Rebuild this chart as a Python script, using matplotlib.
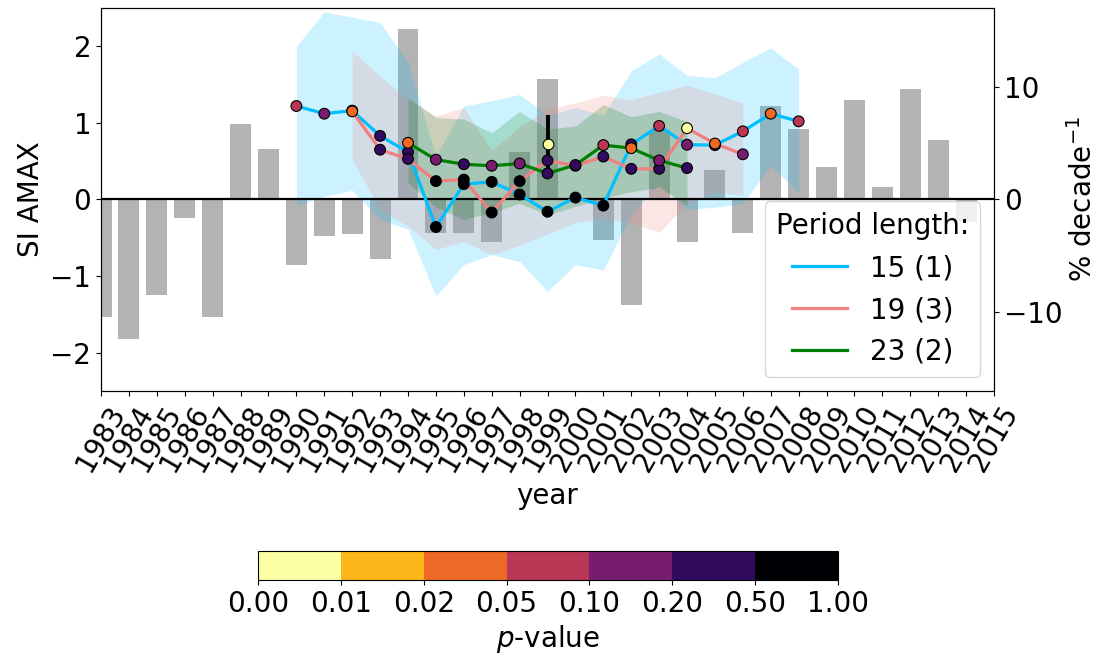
import numpy as np
import matplotlib
matplotlib.use("Agg")
import matplotlib.pyplot as plt
from matplotlib.colors import ListedColormap, BoundaryNorm
from matplotlib.lines import Line2D

plt.rcParams['font.size'] = 20

# yearly anomalies (right axis, % decade^-1)
bar_years = list(range(1983, 2015))
bar_vals = [-10.4, -12.4, -8.5, -1.6, -10.4, 6.7, 4.5, -5.8, -3.2, -3.1, -5.3, 15.1,
            -3.0, -3.0, -3.8, 4.2, 10.7, 0.0, -3.6, -9.4, 6.2, -3.8, 2.6, -3.0,
            8.3, 6.3, 2.9, 8.85, 1.15, 9.8, 5.3, -2.0]

# 15 year period
years15 = list(range(1990, 2009))
si15 = [1.22, 1.12, 1.16, 0.83, 0.62, -0.36, 0.20, 0.23, 0.065, -0.16, 0.025, -0.08,
        0.72, 0.96, 0.715, 0.71, 0.89, 1.12, 1.02]
p15 = [0.07, 0.15, 0.03, 0.3, 0.3, 0.7, 0.7, 0.7, 0.7, 0.7, 0.7, 0.7,
       0.3, 0.07, 0.15, 0.3, 0.07, 0.03, 0.07]
lo15 = [-0.08, 0.04, 0.12, -0.26, -0.39, -1.26, -0.85, -0.72, -0.81, -1.20, -0.85, -0.92,
        -0.20, 0.20, -0.13, -0.10, -0.05, 0.44, 0.09]
hi15 = [2.00, 2.45, 2.38, 2.31, 1.79, 0.57, 1.22, 1.29, 1.37, 1.10, 1.20, 1.10,
        1.68, 1.90, 1.62, 1.59, 1.79, 1.98, 1.70]

# 19 year period
years19 = list(range(1992, 2007))
si19 = [1.15, 0.65, 0.53, 0.24, 0.26, -0.17, 0.24, 0.51, 0.44, 0.56, 0.40, 0.40, 0.93, 0.73, 0.59]
p19 = [0.03, 0.3, 0.3, 0.7, 0.7, 0.7, 0.7, 0.3, 0.3, 0.3, 0.3, 0.3, 0.005, 0.03, 0.15]
lo19 = [0.52, -0.13, -0.35, -0.65, -0.55, -0.72, -0.60, -0.45, -0.30, -0.25, -0.30, -0.43,
        -0.05, 0.10, 0.05]
hi19 = [1.94, 1.61, 1.31, 1.09, 1.20, 0.64, 0.95, 1.18, 1.26, 1.36, 1.30, 1.40, 1.49, 1.38, 1.26]

# 23 year period
years23 = list(range(1994, 2005))
si23 = [0.74, 0.52, 0.46, 0.44, 0.47, 0.34, 0.45, 0.71, 0.67, 0.51, 0.41]
p23 = [0.03, 0.15, 0.3, 0.15, 0.15, 0.3, 0.3, 0.07, 0.03, 0.15, 0.3]
lo23 = [0.22, -0.10, -0.26, -0.17, -0.05, -0.20, -0.09, 0.02, 0.10, 0.16, -0.08]
hi23 = [1.33, 1.07, 1.05, 0.87, 1.15, 0.92, 0.96, 1.24, 1.08, 1.15, 1.02]

# single point with error bar
obs_year = 1999
obs_val = 0.73
obs_err = 0.37
obs_p = 0.005

p_bounds = [0.0, 0.01, 0.02, 0.05, 0.1, 0.2, 0.5, 1.0]

cmap = ListedColormap(plt.cm.inferno_r(np.linspace(0, 1, 7)))
norm = BoundaryNorm(p_bounds, cmap.N)

fig = plt.figure(figsize=(11.02, 6.59), dpi=100)
ax = fig.add_axes([0.0917, 0.4067, 0.8103, 0.5812])
ax2 = ax.twinx()

ax2.bar(bar_years, bar_vals, width=0.75, color='0.7', zorder=1)
ax2.set_ylim(-17, 17)
ax2.set_yticks([-10, 0, 10])
ax2.set_ylabel('% decade$^{-1}$')

ax.set_zorder(ax2.get_zorder() + 1)
ax.patch.set_visible(False)

series = [
    (years15, si15, p15, lo15, hi15, '#00bfff', '15 (1)'),
    (years19, si19, p19, lo19, hi19, '#f08080', '19 (3)'),
    (years23, si23, p23, lo23, hi23, 'green', '23 (2)'),
]

for yrs, vals, pv, lo, hi, col, lab in series:
    ax.fill_between(yrs, lo, hi, color=col, alpha=0.2, linewidth=0, zorder=1)

ax.axhline(0, color='black', lw=1.6, zorder=2)

handles = []
for yrs, vals, pv, lo, hi, col, lab in series:
    ax.plot(yrs, vals, color=col, lw=2.3, zorder=3)
    handles.append(Line2D([], [], color=col, lw=2.3, label=lab))

for yrs, vals, pv, lo, hi, col, lab in series:
    ax.scatter(yrs, vals, c=pv, cmap=cmap, norm=norm, s=60, edgecolors='black',
               linewidths=0.8, zorder=4)

ax.errorbar([obs_year], [obs_val], yerr=[obs_err], fmt='none', ecolor='black',
            elinewidth=2.8, zorder=3.5)
sc = ax.scatter([obs_year], [obs_val], c=[obs_p], cmap=cmap, norm=norm, s=60,
                edgecolors='black', linewidths=0.8, zorder=5)

ax.set_xlim(1983, 2015)
ax.set_ylim(-2.5, 2.5)
ax.set_yticks([-2, -1, 0, 1, 2])
ax.set_xticks(range(1983, 2016))
ax.set_xticklabels([str(y) for y in range(1983, 2016)], rotation=60)
ax.set_xlabel('year')
ax.set_ylabel('SI AMAX')

ax.legend(handles=handles, title='Period length:', loc='lower right')

cax = fig.add_axes([0.2341, 0.1199, 0.5263, 0.044])
cb = fig.colorbar(sc, cax=cax, orientation='horizontal', ticks=p_bounds, format='%.2f')
cb.set_label('$p$-value')

fig.savefig('out.png', dpi=100)
